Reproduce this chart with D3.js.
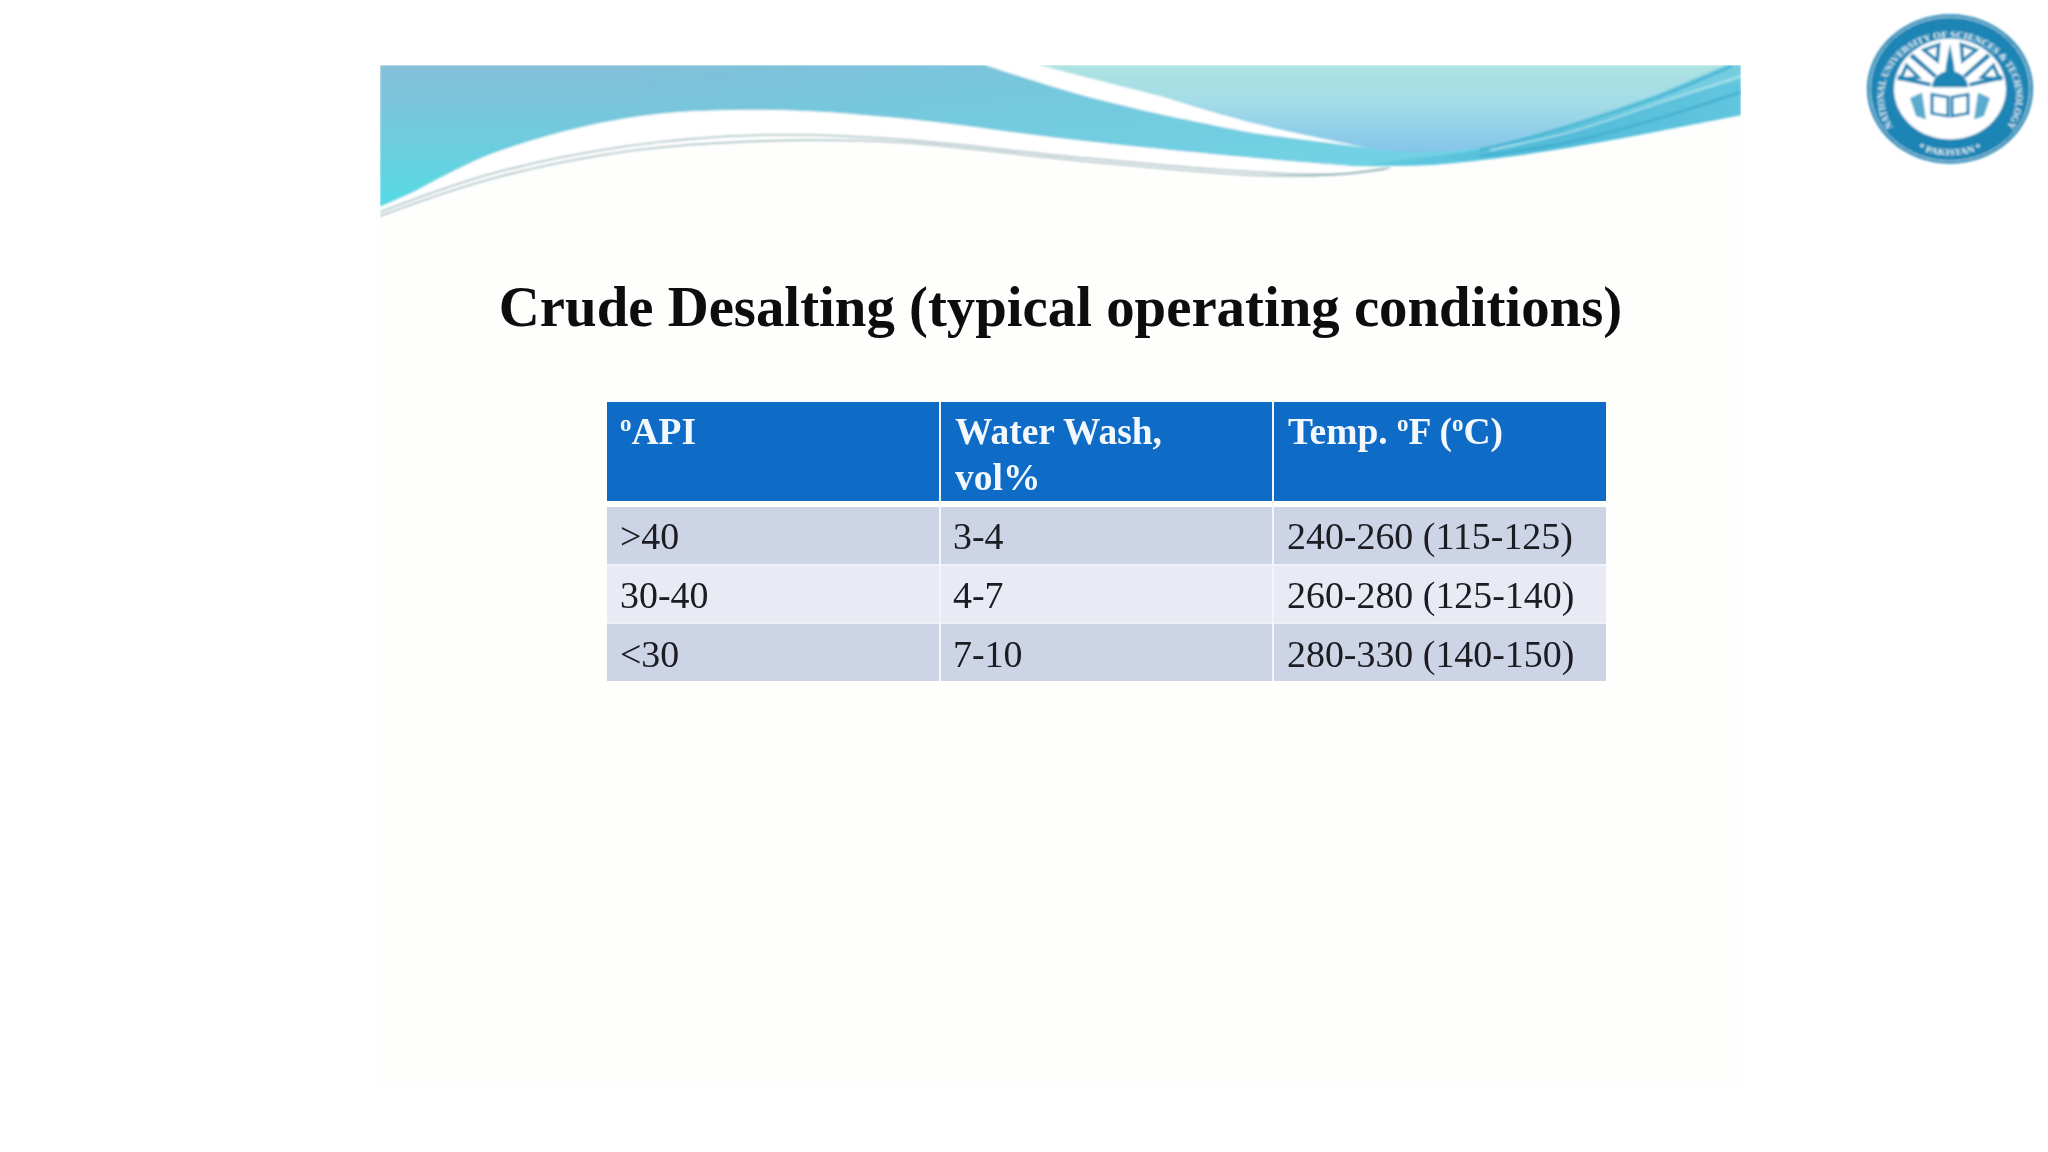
<!DOCTYPE html>
<html>
<head>
<meta charset="utf-8">
<title>Crude Desalting</title>
<script src="https://cdn.jsdelivr.net/npm/d3@7"></script>
<style>
  html, body { margin: 0; padding: 0; background: #ffffff; overflow: hidden; }
  text { font-family: "Liberation Serif", serif; }
</style>
</head>
<body>
<div id="viz"></div>
<script>
// table contents
var titleText = "Crude Desalting (typical operating conditions)";
var columns = ["api", "wash", "temp"];
var rowKeys = ["r1", "r2", "r3"];
var apiValues = [">40", "30-40", "<30"];
var washValues = ["3-4", "4-7", "7-10"];
var tempValues = ["240-260 (115-125)", "260-280 (125-140)", "280-330 (140-150)"];
var logoTopText = "NATIONAL UNIVERSITY OF SCIENCES & TECHNOLOGY";
var logoBottomText = "* PAKISTAN *";

var width = 2048, height = 1152;

const svg = d3.select("#viz").append("svg")
  .attr("width", width)
  .attr("height", height)
  .style("display", "block");

var defs = svg.append("defs");

function addGradient(id, x1, y1, x2, y2, stops) {
  var g = defs.append("linearGradient").attr("id", id)
    .attr("x1", x1).attr("y1", y1).attr("x2", x2).attr("y2", y2);
  stops.forEach(function(s) {
    g.append("stop").attr("offset", s[0]).attr("stop-color", s[1]);
  });
}
addGradient("blueBand", 0, 0, 1, 1, [[0, "#86bdd8"], [0.35, "#74c8dd"], [0.7, "#72d2e4"], [1, "#78d8e6"]]);
addGradient("blueLeft", 0, 0, 0, 1, [[0, "#86bfd8"], [0.5, "#70cbde"], [1, "#55dbe3"]]);
addGradient("lightBand", 0, 0, 0, 1, [[0, "#aee3e2"], [0.45, "#a2dce6"], [1, "#84c4ea"]]);
addGradient("swoosh", 0, 0, 1, 0, [[0, "#62cbdf"], [0.5, "#4fb9d8"], [1, "#5fc4de"]]);

defs.append("filter").attr("id", "soft").append("feGaussianBlur").attr("stdDeviation", 1.2);
defs.append("filter").attr("id", "softText").append("feGaussianBlur").attr("stdDeviation", 0.6);
defs.append("filter").attr("id", "softLogo").append("feGaussianBlur").attr("stdDeviation", 0.9);
defs.append("clipPath").attr("id", "slideClip").append("rect")
  .attr("x", 380).attr("y", 65).attr("width", 1361).attr("height", 1020);

// slide background
svg.append("rect")
  .attr("x", 380).attr("y", 65).attr("width", 1361).attr("height", 1020)
  .attr("fill", "#fefefc");

// ---- banner, just decoration ----
var curve = d3.line().curve(d3.curveCatmullRom.alpha(0.5));
function edge(pts) { return curve(pts).slice(1); }

var banner = svg.append("g").attr("clip-path", "url(#slideClip)")
  .append("g").attr("filter", "url(#soft)");

var upperEdge = [[1351, 166], [1253, 158], [1074, 140], [896, 118], [762, 110], [628, 118], [494, 153], [414, 192], [380, 207]];
banner.append("path")
  .attr("d", "M 1741 65 L 1741 115 L" + edge([[1628, 137], [1521, 155], [1431, 165], [1351, 166]]) + " L" + edge(upperEdge) + " L 380 65 Z")
  .attr("fill", "url(#blueBand)");
banner.append("path")
  .attr("d", "M 380 65 L 640 65 L 640 116 L" + edge([[628, 118], [494, 153], [414, 192], [380, 207]]) + " Z")
  .attr("fill", "url(#blueLeft)");

// white sweep under the blue part
banner.append("path")
  .attr("d", "M 380 207 L" + edge([[414, 192], [494, 153], [628, 118], [762, 110], [896, 118], [1074, 140], [1253, 158], [1351, 166]]) +
    " L" + edge([[1351, 170], [1253, 174], [1074, 160], [896, 142], [762, 138], [628, 150], [494, 178], [414, 208], [380, 218]]) + " Z")
  .attr("fill", "#ffffff");

// pale area on the right
banner.append("path")
  .attr("d", "M 1039 65 L 1726 65 L" + edge([[1655, 95], [1556, 128], [1476, 148], [1410, 152], [1369, 148]]) +
    " L" + edge([[1253, 123], [1164, 97], [1039, 65]]) + " Z")
  .attr("fill", "url(#lightBand)");
banner.append("path")
  .attr("d", "M 985 65 L 1039 65 L" + edge([[1164, 97], [1253, 123], [1369, 148]]) + " L" + edge([[1253, 133], [1164, 115], [1074, 93], [985, 65]]) + " Z")
  .attr("fill", "#ffffff");

// teal swoosh, lower right
banner.append("path")
  .attr("d", "M 1351 166 L" + edge([[1431, 165], [1521, 155], [1628, 137], [1741, 115]]) +
    " L 1741 80 L" + edge([[1655, 103], [1556, 132], [1476, 150], [1351, 166]]) + " Z")
  .attr("fill", "url(#swoosh)").attr("opacity", 0.9);

[[[1741, 92], [1660, 118], [1570, 142], [1480, 156]],
 [[1732, 66], [1650, 100], [1556, 130], [1480, 150]]].forEach(function(l) {
  banner.append("path").attr("d", curve(l)).attr("fill", "none")
    .attr("stroke", "#3aa9cc").attr("stroke-width", 2.5).attr("opacity", 0.7);
});
banner.append("path").attr("d", curve([[1741, 76], [1650, 106], [1570, 132], [1490, 150]])).attr("fill", "none")
  .attr("stroke", "#d4f1f3").attr("stroke-width", 1.5).attr("opacity", 0.7);

// thin grey lines through the white sweep
[[[380, 212], [494, 173], [628, 146], [762, 135], [896, 139], [1074, 157], [1253, 172], [1340, 174], [1385, 169]],
 [[380, 216], [494, 178], [628, 151], [762, 141], [896, 142], [1074, 160], [1253, 175], [1330, 175], [1390, 168]]].forEach(function(l) {
  banner.append("path").attr("d", curve(l)).attr("fill", "none")
    .attr("stroke", "#7ea3a8").attr("stroke-width", 1.5).attr("opacity", 0.75);
});

// ---- logo ----
var logoBlue = "#1a85b5";
var logo = svg.append("g").attr("transform", "translate(1950,89) scale(1,0.9)").attr("filter", "url(#softLogo)");
logo.append("circle").attr("r", 83).attr("fill", logoBlue);
logo.append("circle").attr("r", 80).attr("fill", "none").attr("stroke", "#cfe8f0").attr("stroke-width", 1);
logo.append("circle").attr("r", 56).attr("fill", "#ffffff");

defs.append("path").attr("id", "logoArcTop").attr("d", "M -57 42 A 66 66 0 1 1 57 42");
defs.append("path").attr("id", "logoArcBottom").attr("d", "M -40 62 A 74 74 0 0 0 40 62");
logo.append("text").attr("font-size", 10.2).attr("font-weight", "bold").attr("fill", "#e8f5f9")
  .append("textPath").attr("href", "#logoArcTop").attr("startOffset", "50%").attr("text-anchor", "middle")
  .text(logoTopText);
logo.append("text").attr("font-size", 10.2).attr("font-weight", "bold").attr("fill", "#e8f5f9")
  .append("textPath").attr("href", "#logoArcBottom").attr("startOffset", "50%").attr("text-anchor", "middle")
  .text(logoBottomText);

// emblem: bars and hollow triangles fanning out of the dome
[-68, -22, 22, 68].forEach(function(a) {
  logo.append("path")
    .attr("transform", "rotate(" + a + ")")
    .attr("d", "M -8 -50 L 8 -50 L 0 -34 Z")
    .attr("fill", "none").attr("stroke", logoBlue).attr("stroke-width", 3.5);
});
[-46, 46, -76, 76].forEach(function(a) {
  logo.append("path")
    .attr("transform", "rotate(" + a + ")")
    .attr("d", "M -2.5 -54 L 2.5 -54 L 2 -20 L -2 -20 Z")
    .attr("fill", logoBlue);
});
logo.append("path").attr("d", "M 0 -50 L 4 -26 L 5 -14 L -5 -14 L -4 -26 Z").attr("fill", logoBlue);
logo.append("path").attr("d", "M -18 -2 A 18 18 0 0 1 18 -2 Z").attr("fill", logoBlue);
// open book
logo.append("path").attr("d", "M -18 6 L -2 9 L -2 30 L -18 27 Z M 18 6 L 2 9 L 2 30 L 18 27 Z")
  .attr("fill", "#ffffff").attr("stroke", logoBlue).attr("stroke-width", 3);
logo.append("path").attr("d", "M -40 10 L -28 4 L -24 34 L -34 30 Z M 40 10 L 28 4 L 24 34 L 34 30 Z").attr("fill", "#5aacce");

// ---- title ----
svg.append("text")
  .attr("x", 1060.5).attr("y", 326)
  .attr("text-anchor", "middle")
  .attr("font-size", 56.8)
  .attr("font-weight", "bold")
  .attr("fill", "#0b0b0b")
  .attr("filter", "url(#softText)")
  .text(titleText);

// ---- table ----
var colScale = d3.scaleBand().domain(columns).range([607, 1606]);
var rowScale = d3.scaleBand().domain(rowKeys).range([507, 681]);
// text baselines are spaced a little wider than the rows
var baseScale = d3.scalePoint().domain(rowKeys).range([549, 667]);

var rowData = rowKeys.map(function(k, i) {
  return { key: k, api: apiValues[i], wash: washValues[i], temp: tempValues[i] };
});

var table = svg.append("g");

// header cells
table.selectAll(".head").data(columns).enter().append("rect")
  .attr("class", "head")
  .attr("x", function(c) { return colScale(c); })
  .attr("y", 402)
  .attr("width", colScale.bandwidth())
  .attr("height", 99)
  .attr("fill", "#0f6cc6");

// body cells
var rows = table.selectAll(".row").data(rowData).enter().append("g").attr("class", "row");
columns.forEach(function(c) {
  rows.append("rect")
    .attr("x", colScale(c))
    .attr("y", function(d) { return rowScale(d.key); })
    .attr("width", colScale.bandwidth())
    .attr("height", rowScale.bandwidth())
    .attr("fill", function(d, i) { return i == 1 ? "#e8ebf4" : "#cdd4e6"; });
});

// cell borders
table.selectAll(".rowline").data(rowKeys.slice(1)).enter().append("line")
  .attr("class", "rowline")
  .attr("x1", 607).attr("x2", 1606)
  .attr("y1", function(k) { return rowScale(k); })
  .attr("y2", function(k) { return rowScale(k); })
  .attr("stroke", "#f6f7fb").attr("stroke-width", 1.5);
table.selectAll(".colline").data(columns.slice(1)).enter().append("line")
  .attr("class", "colline")
  .attr("x1", function(c) { return colScale(c); })
  .attr("x2", function(c) { return colScale(c); })
  .attr("y1", 402).attr("y2", 681)
  .attr("stroke", "#f2f5fa").attr("stroke-width", 2);

var labels = svg.append("g").attr("filter", "url(#softText)");

// header text, the small raised o is its own tspan
function addHead(x, y, parts) {
  var t = labels.append("text").attr("x", x).attr("y", y)
    .attr("font-size", 37.5).attr("font-weight", "bold").attr("fill", "#f2f8fd");
  var raised = false;
  parts.forEach(function(p) {
    if (p == "o") {
      t.append("tspan").attr("dy", -13).attr("font-size", 23).text("o");
      raised = true;
    } else {
      t.append("tspan").attr("dy", raised ? 13 : 0).text(p);
      raised = false;
    }
  });
}
addHead(colScale("api") + 13, 444, ["o", "API"]);
addHead(colScale("wash") + 15, 444, ["Water Wash,"]);
addHead(colScale("wash") + 15, 490, ["vol%"]);
addHead(colScale("temp") + 15, 444, ["Temp. ", "o", "F (", "o", "C)"]);

// body text
columns.forEach(function(c) {
  labels.selectAll(".cell-" + c).data(rowData).enter().append("text")
    .attr("class", "cell-" + c)
    .attr("x", colScale(c) + (c == "temp" ? 14 : 13))
    .attr("y", function(d) { return baseScale(d.key); })
    .attr("font-size", 37.9)
    .attr("fill", "#1a1a20")
    .text(function(d) { return d[c]; });
});
</script>
</body>
</html>
